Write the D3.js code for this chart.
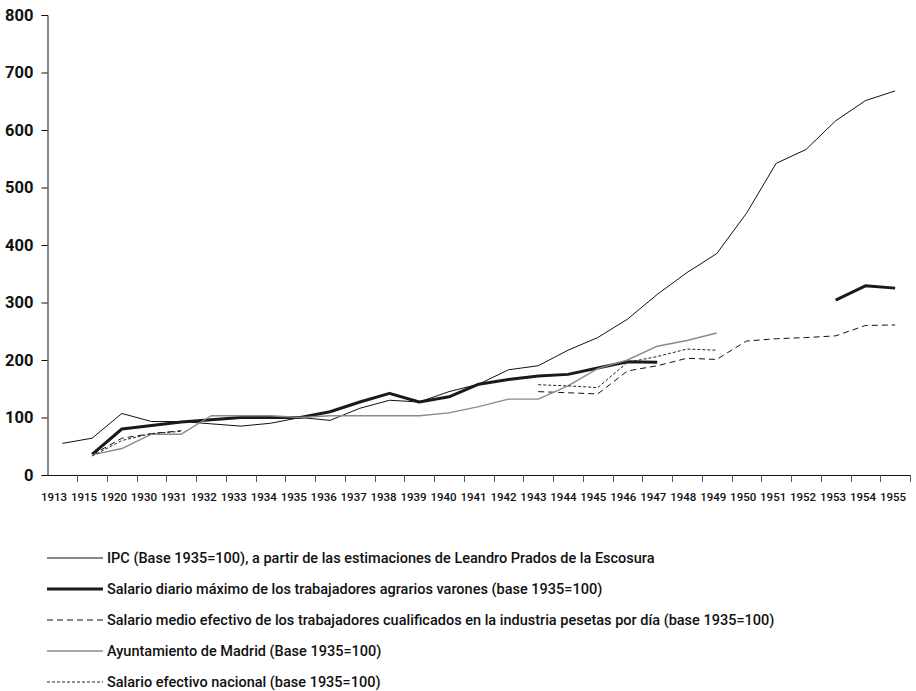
<!DOCTYPE html>
<html lang="es">
<head>
    <meta charset="utf-8">
    <script src="https://d3js.org/d3.v7.min.js"></script>
</head>
<body style="margin:0;background:#fff">
<style>
    svg text { font-family: Roboto, "DejaVu Sans", sans-serif; fill: #111; }
</style>
<svg width="916" height="691"></svg>

<script>
// categories on the x axis (not evenly spaced years)
var years = ["1913","1915","1920","1930","1931","1932","1933","1934","1935","1936","1937","1938","1939","1940",
    "1941","1942","1943","1944","1945","1946","1947","1948","1949","1950","1951","1952","1953","1954","1955"];

var ipc = [55, 64, 107, 93, 93, 89, 85, 90, 100, 95, 116, 130, 127, 145, 158, 183, 190, 217, 239, 271, 314,
    352, 385, 455, 542, 566, 616, 651, 668];
var agrarios = [null, 36, 80, 86, 92, 96, 100, 100, 100, 110, 127, 142, 127, 136, 158, 166, 172, 175, 186, 197, 196,
    null, null, null, null, null, 304, 329, 325];
var industria = [null, 35, 64, 72, 77, null, null, null, null, null, null, null, null, null, null, null,
    145, 143, 141, 181, 190, 203, 201, 233, 237, 239, 242, 260, 261];
var madrid = [null, 35, 46, 71, 71, 103, 103, 103, 100, 103, 103, 103, 103, 108, 119, 132, 132, 155, 185, 200, 224,
    234, 247, null, null, null, null, null, null];
var nacional = [null, 33, 60, 72, 76, null, null, null, null, null, null, null, null, null, null, null,
    157, 155, 152, 196, 206, 219, 217, null, null, null, null, null, null];

var yTicks = [0, 100, 200, 300, 400, 500, 600, 700, 800];

var series = [
    {name: "IPC (Base 1935=100), a partir de las estimaciones de Leandro Prados de la Escosura", values: ipc,
        stroke: "#111", width: 1, dash: null},
    {name: "Salario diario máximo de los trabajadores agrarios varones (base 1935=100)", values: agrarios,
        stroke: "#1a1a1a", width: 3, dash: null},
    {name: "Salario medio efectivo de los trabajadores cualificados en la industria pesetas por día (base 1935=100)",
        values: industria, stroke: "#111", width: 1, dash: "6,4"},
    {name: "Ayuntamiento de Madrid (Base 1935=100)", values: madrid, stroke: "#8a8a8a", width: 1.4, dash: null},
    {name: "Salario efectivo nacional (base 1935=100)", values: nacional, stroke: "#222", width: 1, dash: "3,2"}
];

var svg = d3.select("svg");

var x = d3.scaleBand().domain(years).range([47.5, 910]);
var xLabel = d3.scalePoint().domain(years).range([54, 893]);
var y = d3.scaleLinear().domain([0, 800]).range([475, 15]);

// y axis
var yAxis = svg.append("g").attr("transform", "translate(47.5,0)")
    .call(d3.axisLeft(y).tickValues(yTicks).tickSize(6).tickPadding(8));
yAxis.select(".domain").attr("stroke", "#111");
yAxis.selectAll("line").attr("stroke", "#111");
yAxis.selectAll("text").attr("font-size", 16.5).attr("font-weight", 700).attr("fill", "#111");

// x axis: ticks at band boundaries, labels centred
var xg = svg.append("g");
xg.append("line")
    .attr("x1", x.range()[0]).attr("x2", x.range()[1])
    .attr("y1", y(0) + 0.5).attr("y2", y(0) + 0.5)
    .attr("stroke", "#111");
xg.selectAll(".tick").data(years).enter().append("line")
    .attr("x1", d => Math.round(x(d) + x.bandwidth()) + 0.5)
    .attr("x2", d => Math.round(x(d) + x.bandwidth()) + 0.5)
    .attr("y1", y(0)).attr("y2", y(0) + 7)
    .attr("stroke", "#555");
xg.selectAll(".lab").data(years).enter().append("text")
    .attr("x", d => xLabel(d))
    .attr("y", 501)
    .attr("text-anchor", "middle")
    .attr("font-size", 11.5)
    .attr("font-weight", 500)
    .text(d => d);

var line = d3.line()
    .defined(d => d.v != null)
    .x(d => x(d.year) + x.bandwidth() / 2)
    .y(d => y(d.v));

svg.append("g").selectAll("path")
    .data(series)
    .enter().append("path")
    .attr("d", s => line(years.map((yr, i) => ({year: yr, v: s.values[i]}))))
    .attr("fill", "none")
    .attr("stroke", s => s.stroke)
    .attr("stroke-width", s => s.width)
    .attr("stroke-dasharray", s => s.dash)
    .attr("stroke-linejoin", "round");

// legend
var legend = svg.append("g").selectAll("g")
    .data(series)
    .enter().append("g")
    .attr("transform", (s, i) => `translate(0, ${558 + i * 31})`);

legend.append("line")
    .attr("x1", 47).attr("x2", 103)
    .attr("stroke", s => s.stroke)
    .attr("stroke-width", s => s.width)
    .attr("stroke-dasharray", s => s.dash);

legend.append("text")
    .attr("x", 107)
    .attr("dy", "0.35em")
    .attr("font-size", 14.5)
    .attr("font-weight", 500)
    .text(s => s.name);
</script>
</body>
</html>
